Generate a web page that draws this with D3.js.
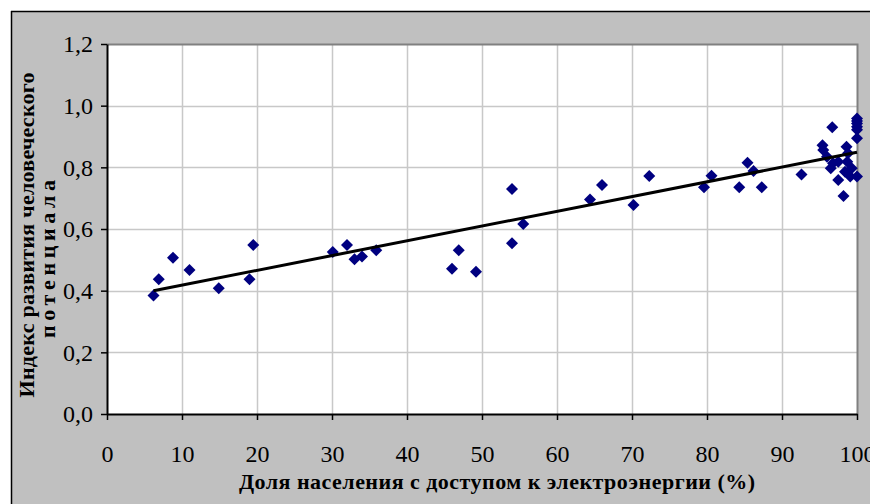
<!DOCTYPE html>
<html>
<head>
<meta charset="utf-8">
<script src="https://cdn.jsdelivr.net/npm/d3@7"></script>
<style>
  html, body { margin: 0; padding: 0; background: #ffffff; }
  svg { display: block; }
</style>
</head>
<body>
<svg id="chart" width="870" height="504"></svg>
<script>
// Доля населения с доступом к электроэнергии (%) по странам
const accessShare = [
  6.2, 6.9, 8.8, 11.0, 14.9, 19.0, 19.5,
  30.1, 32.0, 33.0, 34.0, 35.9,
  46.0, 46.9, 49.2, 54.0, 54.0, 55.5,
  64.4, 66.0, 70.2, 72.3, 79.6, 80.6,
  84.3, 85.4, 86.2, 87.3, 92.6,
  95.4, 95.5, 96.0, 96.5, 96.7, 96.8, 97.5, 97.5,
  98.2, 98.4, 98.6, 98.7, 98.8, 99.1, 99.3,
  100, 100, 100, 100, 100, 100, 100
];
// Индекс развития человеческого потенциала
const hdiValue = [
  0.384, 0.437, 0.507, 0.467, 0.408, 0.437, 0.548,
  0.525, 0.548, 0.502, 0.511, 0.531,
  0.471, 0.531, 0.461, 0.730, 0.554, 0.616,
  0.696, 0.743, 0.678, 0.772, 0.735, 0.773,
  0.735, 0.815, 0.788, 0.735, 0.777,
  0.872, 0.856, 0.834, 0.797, 0.930, 0.813, 0.818, 0.759,
  0.707, 0.786, 0.867, 0.818, 0.846, 0.770, 0.797,
  0.958, 0.950, 0.942, 0.932, 0.922, 0.894, 0.770
];

const xTicks = [0, 10, 20, 30, 40, 50, 60, 70, 80, 90, 100];
const xTickLabels = ["0", "10", "20", "30", "40", "50", "60", "70", "80", "90", "100"];
const yTicks = [0, 0.2, 0.4, 0.6, 0.8, 1.0, 1.2];
const yTickLabels = ["0,0", "0,2", "0,4", "0,6", "0,8", "1,0", "1,2"];

const xTitle = "Доля населения с доступом к электроэнергии (%)";
const yTitleLines = ["Индекс развития человеческого", "потенциала"];

const svg = d3.select("#chart");
const W = 870, H = 504;
const plot = { left: 107, right: 857, top: 44, bottom: 414 };

const x = d3.scaleLinear().domain([0, 100]).range([plot.left, plot.right]);
const y = d3.scaleLinear().domain([0, 1.2]).range([plot.bottom, plot.top]);

// chart area background with black frame on top/left
svg.append("rect").attr("x", 11).attr("y", 11).attr("width", W - 11).attr("height", H - 11)
  .attr("fill", "#c0c0c0");
svg.append("line").attr("x1", 11).attr("x2", W).attr("y1", 11.5).attr("y2", 11.5)
  .attr("stroke", "#000").attr("stroke-width", 1.5);
svg.append("line").attr("x1", 11.5).attr("x2", 11.5).attr("y1", 11).attr("y2", H)
  .attr("stroke", "#000").attr("stroke-width", 1.5);

// plot area
svg.append("rect")
  .attr("x", plot.left).attr("y", plot.top)
  .attr("width", plot.right - plot.left).attr("height", plot.bottom - plot.top)
  .attr("fill", "#ffffff");

// gridlines
const grid = svg.append("g").attr("class", "grid");
grid.selectAll("line.v").data(xTicks.slice(1, -1)).join("line")
  .attr("x1", d => Math.round(x(d)) + 0.5).attr("x2", d => Math.round(x(d)) + 0.5)
  .attr("y1", plot.top).attr("y2", plot.bottom)
  .attr("stroke", "#c8c8c8").attr("stroke-width", 1.5);
grid.selectAll("line.h").data(yTicks.slice(1, -1)).join("line")
  .attr("x1", plot.left).attr("x2", plot.right)
  .attr("y1", d => Math.round(y(d)) + 0.5).attr("y2", d => Math.round(y(d)) + 0.5)
  .attr("stroke", "#c8c8c8").attr("stroke-width", 1.5);

// plot border (top and right)
svg.append("path")
  .attr("d", `M${plot.left},${plot.top + 0.5}H${plot.right + 0.5}V${plot.bottom}`)
  .attr("fill", "none").attr("stroke", "#808080").attr("stroke-width", 2);

// axes
const fontSerif = "'Liberation Serif', 'Times New Roman', serif";

const xAxis = d3.axisBottom(x).tickValues(xTicks)
  .tickFormat((d, i) => xTickLabels[i]).tickSize(6).tickSizeOuter(0);
const gx = svg.append("g").attr("transform", `translate(0,${plot.bottom})`).call(xAxis);
gx.select(".domain").attr("stroke", "#000").attr("stroke-width", 2);
gx.selectAll(".tick line").attr("stroke", "#000").attr("stroke-width", 1.5);
gx.selectAll(".tick text")
  .attr("y", 48).attr("dy", 0)
  .attr("font-family", fontSerif).attr("font-size", 24).attr("fill", "#000");

const yAxis = d3.axisLeft(y).tickValues(yTicks)
  .tickFormat((d, i) => yTickLabels[i]).tickSize(6).tickSizeOuter(0);
const gy = svg.append("g").attr("transform", `translate(${plot.left},0)`).call(yAxis);
gy.select(".domain").attr("stroke", "#000").attr("stroke-width", 2);
gy.selectAll(".tick line").attr("stroke", "#000").attr("stroke-width", 1.5);
gy.selectAll(".tick text")
  .attr("x", -14).attr("dy", "0.32em")
  .attr("font-family", fontSerif).attr("font-size", 24).attr("fill", "#000");

// least-squares linear trend over the data
const n = accessShare.length;
const mx = d3.mean(accessShare), my = d3.mean(hdiValue);
let sxy = 0, sxx = 0;
for (let i = 0; i < n; i++) {
  sxy += (accessShare[i] - mx) * (hdiValue[i] - my);
  sxx += (accessShare[i] - mx) ** 2;
}
const slope = sxy / sxx;
const intercept = my - slope * mx;
const [xMin, xMax] = d3.extent(accessShare);

// scatter markers (diamonds)
const points = accessShare.map((v, i) => ({ x: v, y: hdiValue[i] }));
const diamond = d3.symbol().type(d3.symbolSquare).size(72);
svg.append("g").selectAll("path").data(points).join("path")
  .attr("d", diamond)
  .attr("transform", d => `translate(${x(d.x)},${y(d.y)}) rotate(45)`)
  .attr("fill", "#000080");

// trend line
svg.append("line")
  .attr("x1", x(xMin)).attr("y1", y(intercept + slope * xMin))
  .attr("x2", x(xMax)).attr("y2", y(intercept + slope * xMax))
  .attr("stroke", "#000").attr("stroke-width", 3).attr("stroke-linecap", "butt");

// axis titles
svg.append("text")
  .attr("x", 497).attr("y", 489)
  .attr("text-anchor", "middle")
  .attr("font-family", fontSerif).attr("font-weight", "bold").attr("font-size", 22)
  .attr("textLength", 516).attr("lengthAdjust", "spacing")
  .text(xTitle);

const yTitleCenters = [235, 259];
const yTitleBaselines = [34, 55];
const yTitleLengths = [325, 158];
yTitleLines.forEach((line, i) => {
  svg.append("text")
    .attr("transform", `translate(${yTitleBaselines[i]},${yTitleCenters[i]}) rotate(-90)`)
    .attr("text-anchor", "middle")
    .attr("font-family", fontSerif).attr("font-weight", "bold").attr("font-size", 22)
    .attr("textLength", yTitleLengths[i]).attr("lengthAdjust", "spacing")
    .text(line);
});
</script>
</body>
</html>
